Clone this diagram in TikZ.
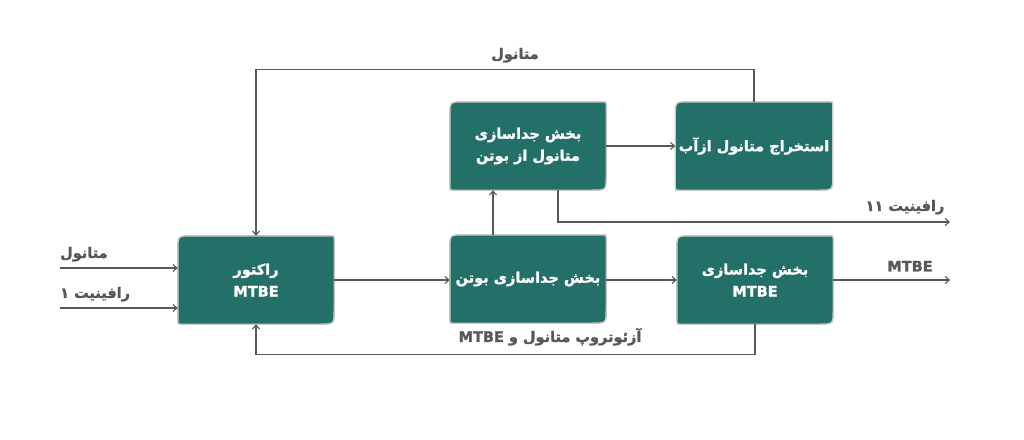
\documentclass[tikz,border=0pt]{standalone}
\usepackage{fontspec}
\setmainfont{DejaVu Sans}
\newfontfamily\fa[Script=Arabic,BoldFeatures={FakeBold=1.6}]{DejaVu Sans}
\TeXXeTstate=1
\usetikzlibrary{arrows.meta,backgrounds}
\definecolor{unitfill}{RGB}{34,112,104}
\definecolor{unitedge}{RGB}{200,202,202}
\definecolor{linegray}{RGB}{88,88,88}
\newcommand{\fatext}[1]{\beginR #1\endR}

\begin{document}
\begin{tikzpicture}[
  x=1pt, y=-1pt,
  unit/.style={minimum width=156pt, minimum height=88pt, align=center, text=white, font=\fa\bfseries\fontsize{14.5}{22}\selectfont},
  flow/.style={draw=linegray, line width=1.1pt, -{Straight Barb[length=4pt,width=7pt]}},
  lbl/.style={text=linegray, font=\fa\bfseries\fontsize{14.5}{17}\selectfont}
]
\useasboundingbox (0,0) rectangle (1024,439);

% Units
\node[unit] (reactor) at (256,280) {\fatext{راکتور}\\MTBE};
\node[unit] (butsep) at (528,279) {\fatext{بخش جداسازی بوتن}};
\node[unit] (mtbesep) at (755,280) {\fatext{بخش جداسازی}\\MTBE};
\node[unit] (methsep) at (528,146) {\fatext{بخش جداسازی}\\\fatext{متانول از بوتن}};
\node[unit] (extract) at (754,146) {\fatext{استخراج متانول ازآب}};

% Box backgrounds, round corners top left and bottom right
\begin{scope}[on background layer]
  \foreach \n in {reactor,butsep,mtbesep,methsep,extract}
    \filldraw[fill=unitfill, draw=unitedge, line width=1.4pt]
      ([yshift=3]\n.south west) -- ([yshift=-14]\n.north west)
      .. controls (\n.north west) .. ([xshift=14]\n.north west)
      -- ([xshift=-3]\n.north east) .. controls (\n.north east) .. ([yshift=-3]\n.north east)
      -- ([yshift=14]\n.south east) .. controls (\n.south east) .. ([xshift=-14]\n.south east)
      -- ([xshift=3]\n.south west) .. controls (\n.south west) .. cycle;
\end{scope}

% Feeds and products
\coordinate (methin) at (60,268);
\coordinate (rafin) at (60,308);
\coordinate (raftwo) at (950,222);
\coordinate (mtbeout) at (950,280);

\draw[flow] (methin) -- (methin -| reactor.west);
\draw[flow] (rafin) -- (rafin -| reactor.west);
\node[lbl, anchor=south west, inner xsep=0pt] (methinlbl) at ([yshift=3]methin) {\fatext{متانول}};
\node[lbl, anchor=south west, inner xsep=0pt] (rafinlbl) at ([yshift=3]rafin) {\fatext{رافینیت ۱}};

% Main line
\draw[flow] (reactor.east) -- (butsep.west |- reactor.east);
\draw[flow] (butsep.east |- mtbesep.west) -- (mtbesep.west);
\draw[flow] (mtbesep.east) -- (mtbeout);
\node[lbl, anchor=south] (mtbelbl) at (910,275) {MTBE};

% Methanol branch
\draw[flow] ([xshift=-35]butsep.north) -- ([xshift=-35]methsep.south);
\draw[flow] (methsep.east) -- (extract.west);
\draw[flow] ([xshift=30]methsep.south) |- (raftwo);
\node[lbl, anchor=south] (raftwolbl) at (905,218) {\fatext{رافینیت ۱۱}};

% Recycle loops
\draw[flow] (extract.north) -- ++(0,-32) -| (reactor.north);
\node[lbl, anchor=south] (toplbl) at (515,66) {\fatext{متانول}};
\draw[flow] (mtbesep.south) -- ++(0,30) -| (reactor.south);
\node[lbl, anchor=south] (reclbl) at (550,349) {\fatext{آزئوتروپ متانول و \beginL MTBE\endL}};
\end{tikzpicture}
\end{document}
